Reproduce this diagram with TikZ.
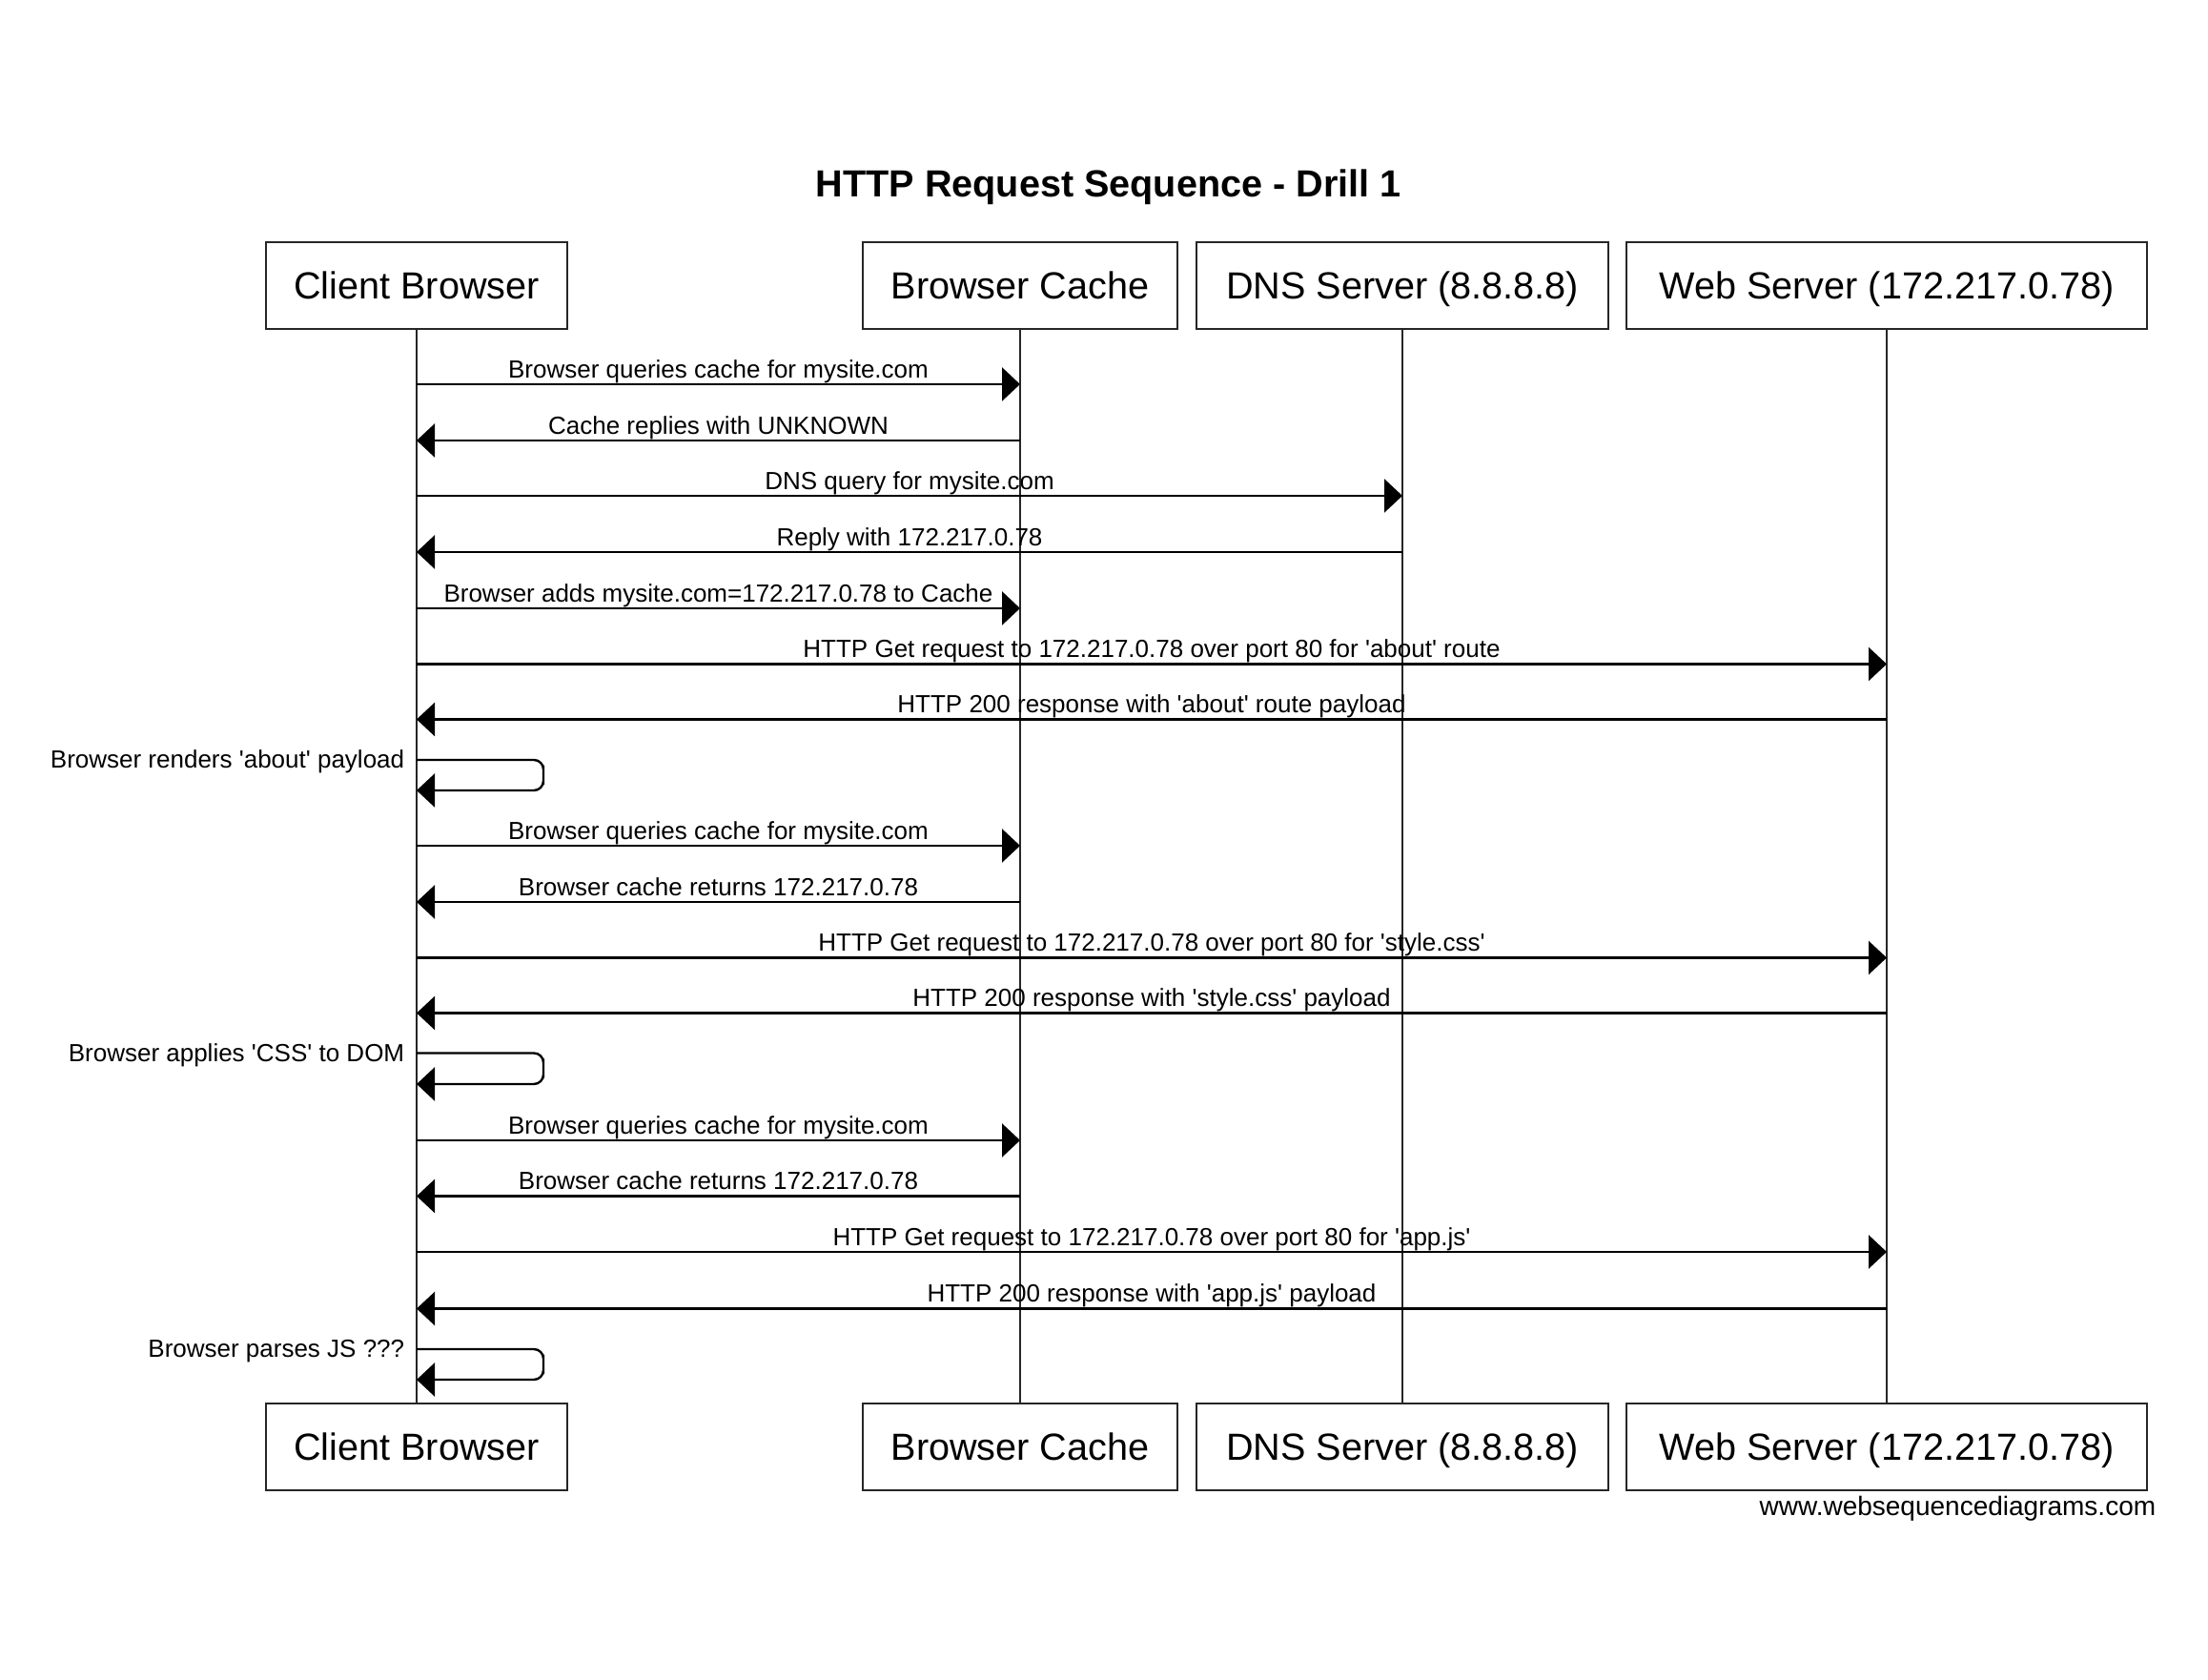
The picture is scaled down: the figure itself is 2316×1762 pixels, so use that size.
\documentclass[tikz,border=0pt]{standalone}
\usepackage{fontspec}
\newfontfamily\wsdfont{Liberation Sans}
\usetikzlibrary{arrows.meta}
\tikzset{
	actor/.style={draw=black!85, line width=0.5pt, minimum height=22.75pt, inner sep=0pt, text height=7.1pt, text depth=0pt, font=\wsdfont\fontsize{9.9}{12}\selectfont},
	life/.style={draw=black!85, line width=0.4pt},
	msg/.style={line width=0.6pt, -{Triangle[length=4.75pt,width=8.75pt]}},
	msglbl/.style={midway, anchor=base, inner sep=0pt, yshift=1.7pt, font=\wsdfont\fontsize{6.5}{8}\selectfont},
	selflbl/.style={anchor=base east, inner sep=0pt, xshift=-2.9pt, yshift=-2.25pt, font=\wsdfont\fontsize{6.5}{8}\selectfont}
}
\begin{document}
\begin{tikzpicture}[x=0.25pt,y=-0.25pt]
	\useasboundingbox (0,0) rectangle (2316,1762);
	\node[anchor=base, font=\wsdfont\bfseries\fontsize{9.9}{12}\selectfont] (title) at (1162.6,207) {HTTP Request Sequence - Drill 1};
	\foreach \n/\xc/\w/\txt in {cb/437/79.1/{Client Browser}, bc/1070/82.5/{Browser Cache}, dns/1471/108/{DNS Server (8.8.8.8)}, web/1979/136.5/{Web Server (172.217.0.78)}}{
		\node[actor, minimum width=\w pt] (\n) at (\xc,299.5) {\txt};
		\node[actor, minimum width=\w pt] (\n-b) at (\xc,1517.5) {\txt};
		\draw[life] (\n) -- (\n-b);}
	\foreach \y/\src/\dst/\txt in {
		403/cb/bc/{Browser queries cache for mysite.com},
		462/bc/cb/{Cache replies with UNKNOWN},
		520/cb/dns/{DNS query for mysite.com},
		579/dns/cb/{Reply with 172.217.0.78},
		638/cb/bc/{Browser adds mysite.com=172.217.0.78 to Cache},
		696.5/cb/web/{HTTP Get request to 172.217.0.78 over port 80 for 'about' route},
		754.5/web/cb/{HTTP 200 response with 'about' route payload},
		887/cb/bc/{Browser queries cache for mysite.com},
		946/bc/cb/{Browser cache returns 172.217.0.78},
		1004.5/cb/web/{HTTP Get request to 172.217.0.78 over port 80 for 'style.css'},
		1062.5/web/cb/{HTTP 200 response with 'style.css' payload},
		1196/cb/bc/{Browser queries cache for mysite.com},
		1254.5/bc/cb/{Browser cache returns 172.217.0.78},
		1313/cb/web/{HTTP Get request to 172.217.0.78 over port 80 for 'app.js'},
		1372.5/web/cb/{HTTP 200 response with 'app.js' payload}}{
		\draw[msg] (\src |- 0,\y) -- node[msglbl] {\txt} (\dst |- 0,\y);}
	\foreach \y/\z/\txt in {797/829/{Browser renders 'about' payload}, 1104.5/1137/{Browser applies 'CSS' to DOM}, 1415/1447/{Browser parses JS ???}}{
		\draw[msg, rounded corners=2.5pt] (cb |- 0,\y) node[selflbl] {\txt} -| (570,\y+16) |- (cb |- 0,\z);}
	\node[anchor=base east, inner sep=0pt, font=\wsdfont\fontsize{7}{8}\selectfont] (footer) at (2262,1590) {www.websequencediagrams.com};
\end{tikzpicture}
\end{document}
